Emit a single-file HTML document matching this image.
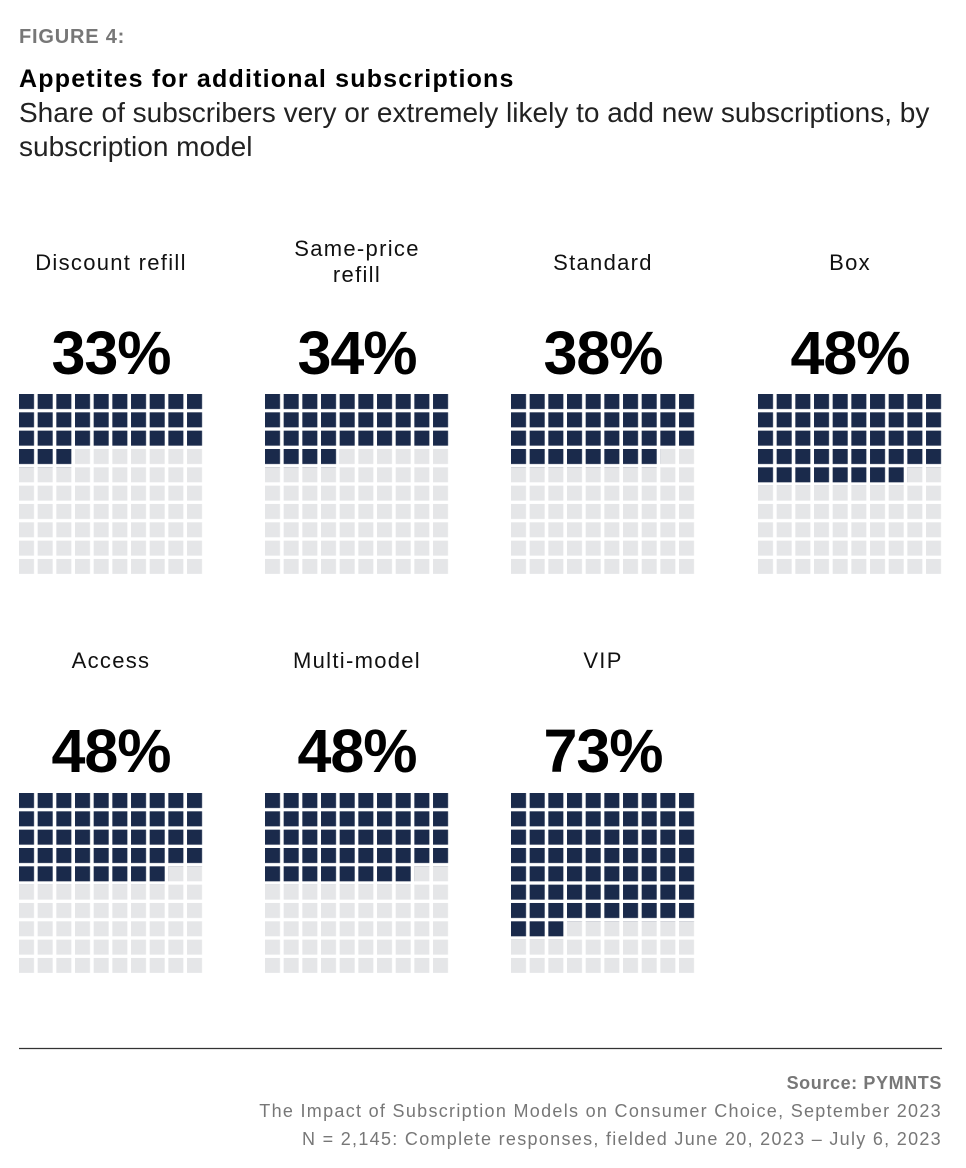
<!DOCTYPE html>
<html><head><meta charset="utf-8"><style>
body{margin:0;background:#fff;width:966px;height:1168px;position:relative;font-family:"Liberation Sans",sans-serif;overflow:hidden}
.a{position:absolute;white-space:nowrap}
.lbl{position:absolute;width:240px;text-align:center;font-size:22px;color:#111;line-height:26px;letter-spacing:1.3px}
.pct{position:absolute;width:240px;text-align:center;font-size:61px;font-weight:bold;color:#000;letter-spacing:-1px}
.src{position:absolute;right:24px;font-size:18px;color:#777;text-align:right;letter-spacing:1.3px}
</style></head><body>
<div class="a" style="left:19px;top:26px;font-size:20px;font-weight:bold;color:#777;letter-spacing:0.8px">FIGURE 4:</div>
<div class="a" style="left:19px;top:65px;font-size:25px;font-weight:bold;color:#000;letter-spacing:1.2px">Appetites for additional subscriptions</div>
<div class="a" style="left:19px;top:96px;font-size:28px;color:#222;line-height:34px;letter-spacing:0">Share of subscribers very or extremely likely to add new subscriptions, by<br>subscription model</div>

<div class="lbl" style="left:-9px;top:250px">Discount refill</div>
<div class="lbl" style="left:237px;top:236px">Same-price<br>refill</div>
<div class="lbl" style="left:483px;top:250px">Standard</div>
<div class="lbl" style="left:730px;top:250px">Box</div>
<div class="lbl" style="left:-9px;top:648px">Access</div>
<div class="lbl" style="left:237px;top:648px">Multi-model</div>
<div class="lbl" style="left:483px;top:648px">VIP</div>

<div class="pct" style="left:-9px;top:318px">33%</div>
<div class="pct" style="left:237px;top:318px">34%</div>
<div class="pct" style="left:483px;top:318px">38%</div>
<div class="pct" style="left:730px;top:318px">48%</div>
<div class="pct" style="left:-9px;top:716px">48%</div>
<div class="pct" style="left:237px;top:716px">48%</div>
<div class="pct" style="left:483px;top:716px">73%</div>

<svg style="position:absolute;left:0;top:0" width="966" height="1168">
<defs>
<pattern id="g" patternUnits="userSpaceOnUse" width="18.67" height="18.33"><rect width="15" height="15" fill="#e5e6e8"/></pattern>
<pattern id="n" patternUnits="userSpaceOnUse" width="18.67" height="18.33"><rect width="15" height="15" fill="#1a2a4b"/></pattern>
</defs>
<g transform="translate(19,394)"><rect width="184" height="180" fill="url(#g)"/><rect width="184" height="55" fill="url(#n)"/><rect y="55" width="56" height="18.33" fill="url(#n)"/></g>
<g transform="translate(265,394)"><rect width="184" height="180" fill="url(#g)"/><rect width="184" height="55" fill="url(#n)"/><rect y="55" width="74.6" height="18.33" fill="url(#n)"/></g>
<g transform="translate(511,394)"><rect width="184" height="180" fill="url(#g)"/><rect width="184" height="55" fill="url(#n)"/><rect y="55" width="149.3" height="18.33" fill="url(#n)"/></g>
<g transform="translate(758,394)"><rect width="184" height="180" fill="url(#g)"/><rect width="184" height="73.3" fill="url(#n)"/><rect y="73.3" width="149.3" height="18.33" fill="url(#n)"/></g>
<g transform="translate(19,793)"><rect width="184" height="180" fill="url(#g)"/><rect width="184" height="73.3" fill="url(#n)"/><rect y="73.3" width="149.3" height="18.33" fill="url(#n)"/></g>
<g transform="translate(265,793)"><rect width="184" height="180" fill="url(#g)"/><rect width="184" height="73.3" fill="url(#n)"/><rect y="73.3" width="149.3" height="18.33" fill="url(#n)"/></g>
<g transform="translate(511,793)"><rect width="184" height="180" fill="url(#g)"/><rect width="184" height="128.3" fill="url(#n)"/><rect y="128.3" width="56" height="18.33" fill="url(#n)"/></g>
<line x1="19" y1="1048.5" x2="942" y2="1048.5" stroke="#333" stroke-width="1.2"/>
</svg>

<div class="src" style="top:1073px;font-weight:bold;letter-spacing:0.6px">Source: PYMNTS</div>
<div class="src" style="top:1101px">The Impact of Subscription Models on Consumer Choice, September 2023</div>
<div class="src" style="top:1129px">N = 2,145: Complete responses, fielded June 20, 2023 – July 6, 2023</div>
</body></html>
